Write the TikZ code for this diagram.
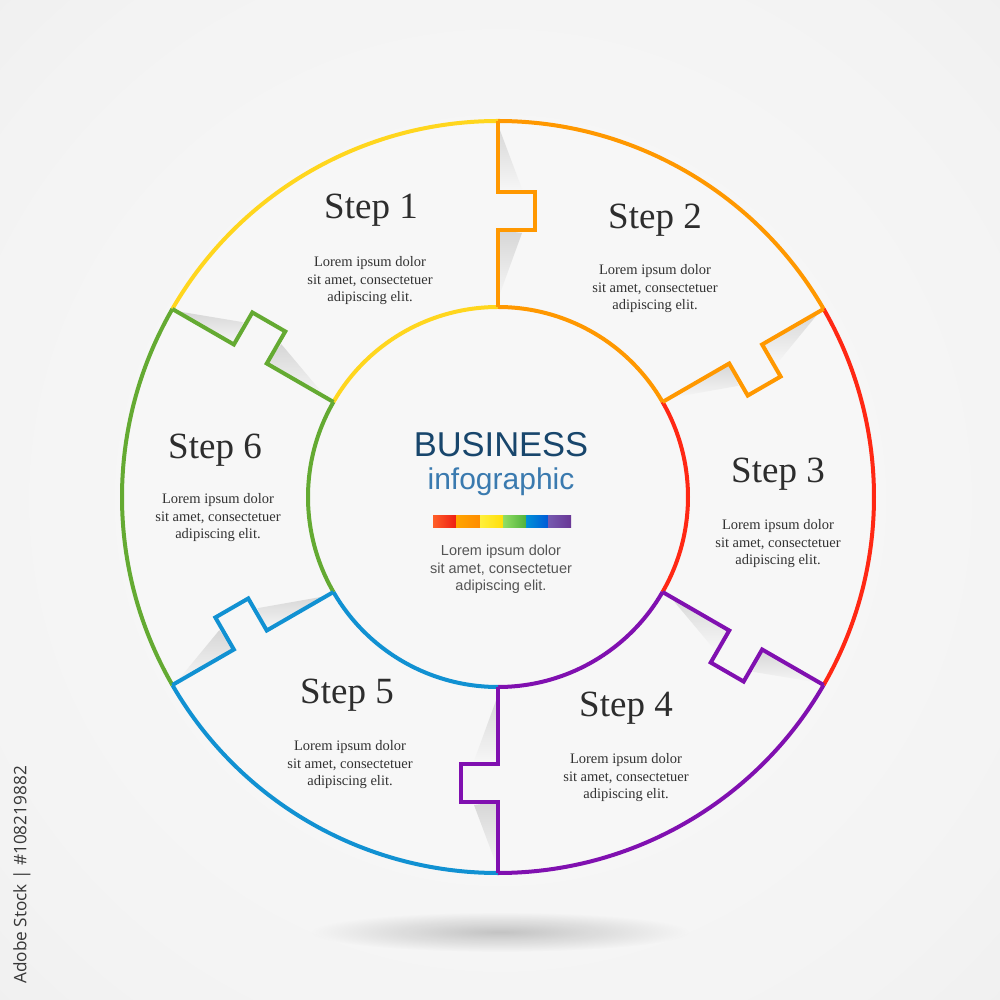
\documentclass[tikz,border=0pt]{standalone}
\usepackage{fontspec}
\setmainfont{Liberation Serif}
\setsansfont{Liberation Sans}
\newfontfamily\wmfont{Open Sans}
\usetikzlibrary{fadings}
\definecolor{cyel}{RGB}{255,214,30}
\definecolor{cora}{RGB}{255,152,0}
\definecolor{cred}{RGB}{255,40,20}
\definecolor{cpur}{RGB}{128,16,176}
\definecolor{cblu}{RGB}{17,145,210}
\definecolor{cgrn}{RGB}{100,170,50}
\definecolor{titlec}{RGB}{45,45,45}
\definecolor{bodyc}{RGB}{50,50,50}
\definecolor{busc}{RGB}{24,70,108}
\definecolor{infoc}{RGB}{58,122,175}
\definecolor{cgray}{RGB}{85,85,85}
\definecolor{wheelbg}{RGB}{247,247,247}
\definecolor{bgc0}{RGB}{250,250,250}
\definecolor{bgc1}{RGB}{243,243,243}
\definecolor{bgc2}{RGB}{233,233,233}
\definecolor{bgc3}{RGB}{223,223,223}
\definecolor{wmc}{RGB}{55,55,55}
\pgfdeclareradialshading{bgshade}{\pgfpoint{0bp}{0bp}}{color(0bp)=(bgc0); color(30bp)=(bgc1); color(50bp)=(bgc2); color(72bp)=(bgc3)}
\tikzfading[name=softfade, inner color=transparent!0, outer color=transparent!100]
\tikzset{
  ring/.style={line width=4pt},
  notchline/.style={line width=4pt, line join=miter},
  steptitle/.style={font=\fontsize{37}{44}\selectfont, text=titlec, anchor=base, inner sep=0pt},
  stepbody/.style={font=\fontsize{14.5}{17.5}\selectfont, text=bodyc, align=center, inner sep=0pt},
  centerbody/.style={font=\sffamily\fontsize{14.5}{17.5}\selectfont, text=cgray, align=center, inner sep=0pt},
  curlshadow/.style={top color=black!16, bottom color=wheelbg},
}
\newcommand\mydivider[2]{%
  \begin{scope}[rotate=#1]
    \shade[curlshadow] (372,0) -- (305,0) -- (308,-24) -- cycle;
    \shade[curlshadow] (267,0) -- (198,0) -- (264,-24) -- cycle;
    \draw[notchline, #2] (190,0) -- (267,0) -- (267,-37) -- (305,-37) -- (305,0) -- (376,0);
  \end{scope}}
\newcommand\myarcs[3]{%
  \draw[ring, #3] (#1:376) arc[start angle=#1, end angle=#2, radius=376];
  \draw[ring, #3] (#1:190) arc[start angle=#1, end angle=#2, radius=190];}
\begin{document}
\begin{tikzpicture}[x=1pt,y=1pt]
\useasboundingbox (-498,-503) rectangle (502,497);
\shade[shading=bgshade] (-498,-503) rectangle (502,497);
% floor shadow
\fill[black, opacity=0.2, path fading=softfade] (2,-435) ellipse [x radius=190, y radius=20];
% wheel
\fill[wheelbg] (0,0) circle (376);
% arcs
\myarcs{150}{90}{cyel}
\myarcs{90}{30}{cora}
\myarcs{30}{-30}{cred}
\myarcs{-30}{-90}{cpur}
\myarcs{-90}{-150}{cblu}
\myarcs{210}{150}{cgrn}
% dividers
\mydivider{90}{cora}
\mydivider{30}{cora}
\mydivider{-30}{cpur}
\mydivider{-90}{cpur}
\mydivider{210}{cblu}
\mydivider{150}{cgrn}
% step texts
\node[steptitle] (t1) at (-127,278) {Step 1};
\node[stepbody] (b1) at (-128,216) {Lorem ipsum dolor\\sit amet, consectetuer\\adipiscing elit.};
\node[steptitle] (t2) at (157,268) {Step 2};
\node[stepbody] (b2) at (157,208) {Lorem ipsum dolor\\sit amet, consectetuer\\adipiscing elit.};
\node[steptitle] (t3) at (280,14) {Step 3};
\node[stepbody] (b3) at (280,-47) {Lorem ipsum dolor\\sit amet, consectetuer\\adipiscing elit.};
\node[steptitle] (t4) at (128,-219) {Step 4};
\node[stepbody] (b4) at (128,-281) {Lorem ipsum dolor\\sit amet, consectetuer\\adipiscing elit.};
\node[steptitle] (t5) at (-151,-206) {Step 5};
\node[stepbody] (b5) at (-148,-268) {Lorem ipsum dolor\\sit amet, consectetuer\\adipiscing elit.};
\node[steptitle] (t6) at (-283,38) {Step 6};
\node[stepbody] (b6) at (-280,-21) {Lorem ipsum dolor\\sit amet, consectetuer\\adipiscing elit.};
% center
\node[font=\sffamily\fontsize{34.5}{40}\selectfont, text=busc, anchor=base, inner sep=0pt] (bus) at (3,40) {BUSINESS};
\node[font=\sffamily\fontsize{30}{36}\selectfont, text=infoc, anchor=base, inner sep=0pt] (info) at (3,7) {infographic};
\shade[left color={rgb,255:red,255;green,95;blue,40}, right color={rgb,255:red,238;green,30;blue,20}] (-65,-19) rectangle (-42,-31);
\shade[left color={rgb,255:red,255;green,165;blue,0}, right color={rgb,255:red,255;green,140;blue,0}] (-42,-19) rectangle (-18,-31);
\shade[left color={rgb,255:red,255;green,240;blue,60}, right color={rgb,255:red,255;green,222;blue,10}] (-18,-19) rectangle (5,-31);
\shade[left color={rgb,255:red,145;green,222;blue,100}, right color={rgb,255:red,80;green,178;blue,60}] (5,-19) rectangle (28,-31);
\shade[left color={rgb,255:red,0;green,145;blue,215}, right color={rgb,255:red,0;green,90;blue,215}] (28,-19) rectangle (50,-31);
\shade[left color={rgb,255:red,118;green,90;blue,175}, right color={rgb,255:red,105;green,55;blue,150}] (50,-19) rectangle (73,-31);
\node[centerbody] (bc) at (3,-72.5) {Lorem ipsum dolor\\sit amet, consectetuer\\adipiscing elit.};
% side credit
\node[rotate=90, font=\wmfont\fontsize{17.2}{20}\selectfont, text=wmc, inner sep=0pt] (credit) at (-476,-378) {Adobe Stock | \#108219882};
\end{tikzpicture}
\end{document}
